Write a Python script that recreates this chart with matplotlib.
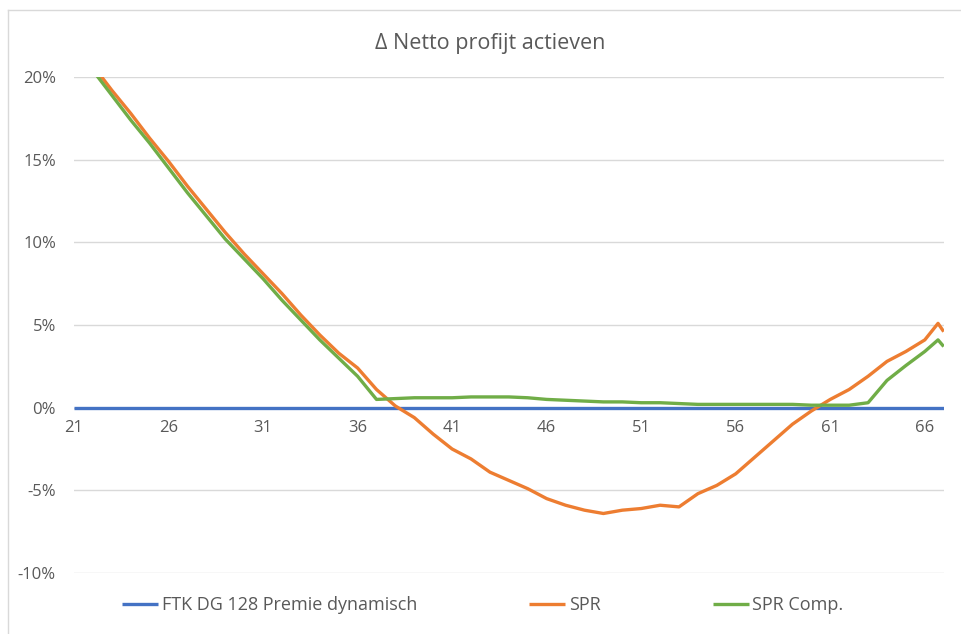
import matplotlib.pyplot as plt
import matplotlib.lines as mlines
import numpy as np

# leeftijd (x-as) en delta netto profijt in %
ages = [21, 22, 23, 24, 25, 26, 27, 28, 29, 30, 31, 32, 33, 34, 35, 36, 37, 38,
        39, 40, 41, 42, 43, 44, 45, 46, 47, 48, 49, 50, 51, 52, 53, 54, 55, 56,
        57, 58, 59, 60, 61, 62, 63, 64, 65, 66, 66.7, 67]
ftk = [0.0] * len(ages)
spr = [22.0, 20.7, 19.2, 17.8, 16.3, 14.9, 13.4, 12.0, 10.6, 9.3, 8.1, 6.9,
       5.6, 4.4, 3.3, 2.4, 1.1, 0.1, -0.6, -1.6, -2.5, -3.1, -3.9, -4.4, -4.9,
       -5.5, -5.9, -6.2, -6.4, -6.2, -6.1, -5.9, -6.0, -5.2, -4.7, -4.0, -3.0,
       -2.0, -1.0, -0.2, 0.5, 1.1, 1.9, 2.8, 3.4, 4.1, 5.1, 4.6]
spr_comp = [21.7, 20.4, 18.9, 17.4, 16.0, 14.5, 13.0, 11.6, 10.2, 9.0, 7.8,
            6.5, 5.3, 4.1, 3.0, 1.9, 0.5, 0.55, 0.6, 0.6, 0.6, 0.65, 0.65,
            0.65, 0.6, 0.5, 0.45, 0.4, 0.35, 0.35, 0.3, 0.3, 0.25, 0.2, 0.2,
            0.2, 0.2, 0.2, 0.2, 0.15, 0.15, 0.15, 0.3, 1.65, 2.55, 3.4, 4.1, 3.7]
series_names = ['FTK DG 128 Premie dynamisch', 'SPR', 'SPR Comp.']
xticks = [21, 26, 31, 36, 41, 46, 51, 56, 61, 66]
yticks = [-10, -5, 0, 5, 10, 15, 20]

colors = ['#4472C4', '#ED7D31', '#70AD47']
txtcol = '#595959'
plt.rcParams['font.family'] = ['Open Sans', 'DejaVu Sans']

fig = plt.figure(figsize=(9.61, 6.34), dpi=100)
ax = fig.add_axes([0.077, 0.0962, 0.905, 0.7823])

# kaderlijnen van de grafiek (boven en links)
fig.add_artist(mlines.Line2D([8/961, 8/961], [0, 1 - 10/634], color='#D9D9D9', lw=1))
fig.add_artist(mlines.Line2D([8/961, 1], [1 - 10/634, 1 - 10/634], color='#D9D9D9', lw=1))

for vals, c, name in zip([ftk, spr, spr_comp], colors, series_names):
    ax.plot(ages, vals, color=c, lw=2.4, label=name,
            solid_joinstyle='round', solid_capstyle='butt')

ax.set_xlim(21, 67)
ax.set_ylim(-10, 20)
ax.set_yticks(yticks)
ax.set_yticklabels(['%d%%' % v for v in yticks])
ax.set_xticks(xticks)
ax.set_xticklabels([str(v) for v in xticks])
ax.grid(axis='y', color='#D9D9D9', lw=1)
ax.set_axisbelow(True)
for s in ['top', 'right', 'left']:
    ax.spines[s].set_visible(False)
ax.spines['bottom'].set_position(('data', 0))
ax.spines['bottom'].set_visible(False)
ax.tick_params(axis='both', length=0, colors=txtcol, labelsize=12)
ax.tick_params(axis='y', pad=13)
ax.tick_params(axis='x', pad=9)

# titel gecentreerd op het grafiekgebied
fig.text(490/961, 1 - 43/634, 'Δ Netto profijt actieven', fontsize=15.5,
         color=txtcol, ha='center', va='center')

leg = ax.legend(loc='center', bbox_to_anchor=(0.47, -0.065), ncol=3,
                frameon=False, fontsize=13, handlelength=2.0,
                handletextpad=0.2, columnspacing=6.2)
for t in leg.get_texts():
    t.set_color(txtcol)

fig.savefig('out.png', dpi=100)
